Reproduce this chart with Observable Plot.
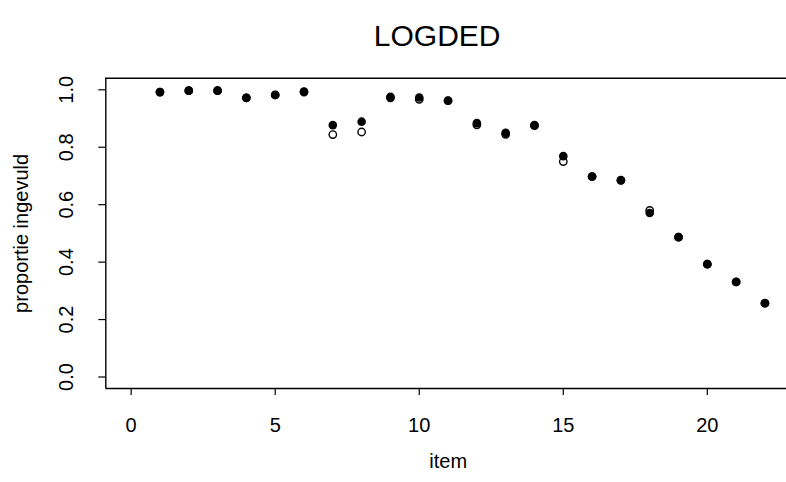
<!DOCTYPE html>
<html>
<head>
<meta charset="utf-8">
<script src="https://cdn.jsdelivr.net/npm/d3@7"></script>
<script src="https://cdn.jsdelivr.net/npm/@observablehq/plot@0.6"></script>
<style>
  body { margin: 0; background: #fff; }
  #chart { width: 786px; height: 482px; }
</style>
</head>
<body>
<div id="chart"></div>
<script>
const titleText = "LOGDED";
const xLabel = "item";
const yLabel = "proportie ingevuld";
const items = [1, 2, 3, 4, 5, 6, 7, 8, 9, 10, 11, 12, 13, 14, 15, 16, 17, 18, 19, 20, 21, 22];
const filledValues = [0.992, 0.997, 0.997, 0.972, 0.982, 0.994, 0.877, 0.889, 0.976, 0.973, 0.962, 0.884, 0.850, 0.877, 0.769, 0.698, 0.685, 0.571, 0.487, 0.393, 0.331, 0.257];
const openValues   = [0.992, 0.997, 0.997, 0.972, 0.982, 0.992, 0.844, 0.853, 0.972, 0.967, 0.962, 0.878, 0.845, 0.875, 0.750, 0.698, 0.685, 0.580, 0.487, 0.393, 0.331, 0.257];
const xTicks = [0, 5, 10, 15, 20];
const yTicks = [0, 0.2, 0.4, 0.6, 0.8, 1.0];
const xLim = [-0.88, 22.88];
const yLim = [-0.04, 1.04];

const rows = items.map((d, i) => ({item: d, filled: filledValues[i], open: openValues[i]}));

const W = 786, H = 482;
const mL = 105.3, mT = 77.8, mB = 94;
const font = "Liberation Sans, Arial, Helvetica, sans-serif";

const chart = Plot.plot({
  width: W,
  height: H,
  marginLeft: mL,
  marginRight: 0,
  marginTop: mT,
  marginBottom: mB,
  style: {fontFamily: font, fontSize: "20px", background: "#fff", color: "black", overflow: "visible"},
  x: {domain: xLim, range: [mL, 789.8]},
  y: {domain: yLim, range: [H - mB, mT]},
  marks: [
    Plot.ruleX([xLim[0]], {stroke: "black", strokeWidth: 1.4}),
    Plot.ruleY(yLim, {stroke: "black", strokeWidth: 1.4}),
    Plot.axisX(xTicks, {anchor: "bottom", tickSize: 7, tickPadding: 22, fontSize: 20, stroke: "black", strokeWidth: 1.2, label: null, tickFormat: d => String(d)}),
    Plot.axisY(yTicks, {anchor: "left", tickSize: 7, tickPadding: 26, fontSize: 20, stroke: "black", strokeWidth: 1.2, label: null,
      tickRotate: -90, textAnchor: "middle", lineAnchor: "bottom", tickFormat: d3.format(".1f")}),
    Plot.dot(rows, {x: "item", y: "open", r: 3.7, stroke: "black", strokeWidth: 1.4, fill: "none"}),
    Plot.dot(rows, {x: "item", y: "filled", r: 4.3, fill: "black", stroke: "none"}),
    Plot.text([xLabel], {text: d => d, frameAnchor: "bottom", textAnchor: "middle", dx: 2, dy: 79, fontSize: 20, fill: "black"}),
    Plot.text([yLabel], {text: d => d, frameAnchor: "left", textAnchor: "middle", rotate: -90, dx: -84, fontSize: 20, fill: "black"}),
    Plot.text([titleText], {text: d => d, frameAnchor: "top", textAnchor: "middle", dx: -9, dy: -54, fontSize: 30, fill: "black"})
  ]
});
document.getElementById("chart").appendChild(chart);
</script>
</body>
</html>
